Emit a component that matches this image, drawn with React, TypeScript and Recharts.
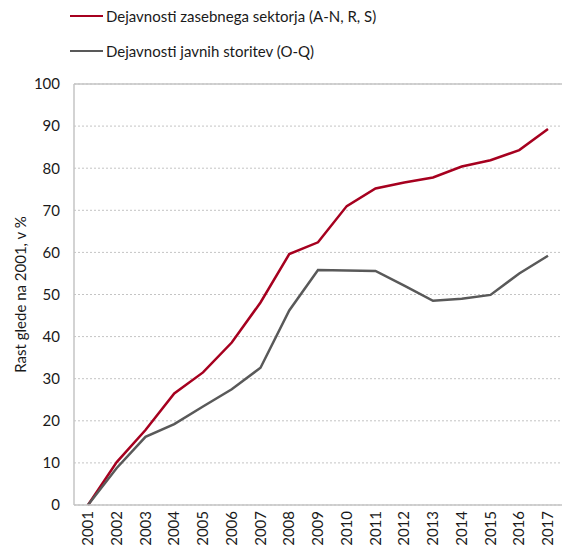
import { LineChart, Line, XAxis, YAxis, CartesianGrid, ReferenceLine } from 'recharts';

// years on the x axis
const years = ['2001', '2002', '2003', '2004', '2005', '2006', '2007', '2008', '2009', '2010', '2011', '2012', '2013', '2014', '2015', '2016', '2017'];

// growth vs. 2001, in %
const zasebni = [0, 10.2, 17.8, 26.5, 31.5, 38.6, 48.1, 59.6, 62.4, 71.0, 75.2, 76.6, 77.8, 80.4, 81.9, 84.3, 89.3];
const javni = [0, 8.8, 16.2, 19.2, 23.4, 27.5, 32.6, 46.2, 55.8, 55.7, 55.6, 52.1, 48.5, 49.0, 49.9, 55.0, 59.2];

const yTicks = [0, 10, 20, 30, 40, 50, 60, 70, 80, 90, 100];

const RED = '#A6001F';
const GREY = '#595959';
const FONT = 'Lato, "Open Sans", sans-serif';

const data = years.map((y, i) => ({ year: y, zasebni: zasebni[i], javni: javni[i] }));

const series = [
  { key: 'zasebni', name: 'Dejavnosti zasebnega sektorja (A-N, R, S)', color: RED },
  { key: 'javni', name: 'Dejavnosti javnih storitev (O-Q)', color: GREY },
];

const YearTick = (props: any) => {
  const { x, y, payload } = props;
  return (
    <g transform={`translate(${x},${y})`}>
      <text x={0} y={0} dy={5} textAnchor="end" transform="rotate(-90)" fill="#1a1a1a" fontSize={15} fontFamily={FONT}>
        {payload.value}
      </text>
    </g>
  );
};

const YLabel = (props: any) => {
  const vb = props.viewBox || { y: 84, height: 421 };
  const cx = 20;
  const cy = vb.y + vb.height / 2;
  return (
    <text x={cx} y={cy} transform={`rotate(-90 ${cx} ${cy})`} textAnchor="middle" dominantBaseline="central" fill="#1a1a1a" fontSize={15} fontFamily={FONT}>
      Rast glede na 2001, v %
    </text>
  );
};

// legend sits above the plot without taking layout space
const LegendBox = () => (
  <div style={{ position: 'absolute', top: 6, left: 70, fontFamily: FONT, fontSize: 15, color: '#1a1a1a' }}>
    {series.map((s, i) => (
      <div key={s.key} style={{ display: 'flex', alignItems: 'center', height: 20, marginTop: i === 0 ? 0 : 15 }}>
        <span style={{ display: 'inline-block', width: 33, height: 2.5, background: s.color, marginRight: 3 }} />
        <span>{s.name}</span>
      </div>
    ))}
  </div>
);

export default function App() {
  return (
    <div style={{ position: 'absolute', left: 0, top: 0, width: 562, height: 547, background: '#fff' }}>
      <LineChart width={562} height={547} data={data} margin={{ top: 84, right: 0, bottom: 0, left: 0 }}>
        <CartesianGrid vertical={false} stroke="#c4c4c4" strokeDasharray="2 2" />
        <ReferenceLine y={100} stroke="#c4c4c4" strokeWidth={1.5} />
        <XAxis
          dataKey="year"
          interval={0}
          height={42}
          padding={{ left: 14, right: 14 }}
          tickLine={false}
          axisLine={{ stroke: '#c4c4c4', strokeWidth: 1.5 }}
          tick={<YearTick />}
          tickMargin={0}
        />
        <YAxis
          width={74}
          domain={[0, 100]}
          ticks={yTicks}
          interval={0}
          tickLine={false}
          tickSize={6}
          tickMargin={8}
          axisLine={{ stroke: '#c4c4c4', strokeWidth: 1.5 }}
          tick={{ fill: '#1a1a1a', fontSize: 15, fontFamily: FONT }}
          label={<YLabel />}
        />
        {series.map((s) => (
          <Line
            key={s.key}
            type="linear"
            dataKey={s.key}
            name={s.name}
            stroke={s.color}
            strokeWidth={2.5}
            dot={false}
            activeDot={false}
            isAnimationActive={false}
          />
        ))}
      </LineChart>
      <LegendBox />
    </div>
  );
}
